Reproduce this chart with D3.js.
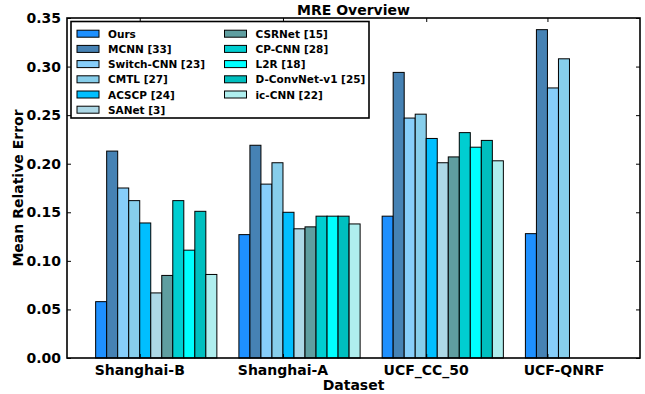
<!DOCTYPE html>
<html>
<head>
<meta charset="utf-8">
<script src="https://cdn.jsdelivr.net/npm/d3@7"></script>
<style>
  body { margin: 0; background: #fff; }
  svg { font-family: "DejaVu Sans", sans-serif; font-weight: bold; }
</style>
</head>
<body>
<div id="chart"></div>
<script>
// data
const datasets = ['Shanghai-B', 'Shanghai-A', 'UCF_CC_50', 'UCF-QNRF'];
const methods  = ['Ours', 'MCNN [33]', 'Switch-CNN [23]', 'CMTL [27]', 'ACSCP [24]', 'SANet [3]',
                  'CSRNet [15]', 'CP-CNN [28]', 'L2R [18]', 'D-ConvNet-v1 [25]', 'ic-CNN [22]'];
const colors   = ['#1E90FF', '#4682B4', '#87CEFA', '#87CEEB', '#00BFFF', '#ADD8E6',
                  '#5F9EA0', '#00CED1', '#00FFFF', '#00BFBF', '#AFEEEE'];
const shanghaiB = [0.058, 0.213, 0.175, 0.162, 0.139, 0.067, 0.085, 0.162, 0.111, 0.151, 0.086];
const shanghaiA = [0.127, 0.219, 0.179, 0.201, 0.150, 0.133, 0.135, 0.146, 0.146, 0.146, 0.138];
const ucfCC50   = [0.146, 0.294, 0.247, 0.251, 0.226, 0.201, 0.207, 0.232, 0.217, 0.224, 0.203];
const ucfQNRF   = [0.128, 0.338, 0.278, 0.308];
const values    = [shanghaiB, shanghaiA, ucfCC50, ucfQNRF];
const yTicks    = [0, 0.05, 0.10, 0.15, 0.20, 0.25, 0.30, 0.35];
const tickSlot  = [4, 4, 4, 2];     // tick mark position, in bar widths from group start
const labelSlot = [4, 4, 4, 3.5];   // label centre, in bar widths from group start

const W = 645, H = 394;
const margin = {left: 67, right: 5, top: 18, bottom: 36};
const barW = 1 / 13;

const svg = d3.select('#chart').append('svg')
  .attr('width', W).attr('height', H);

const x = d3.scaleLinear().domain([-0.2, 3.8]).range([margin.left, W - margin.right]);
const y = d3.scaleLinear().domain([0, 0.35]).range([H - margin.bottom, margin.top]);

// bars
values.forEach((vals, i) => {
  svg.append('g').selectAll('rect')
    .data(vals)
    .join('rect')
    .attr('x', (d, j) => x(i + j * barW))
    .attr('width', x(barW) - x(0))
    .attr('y', d => y(d))
    .attr('height', d => y(0) - y(d))
    .attr('fill', (d, j) => colors[j])
    .attr('stroke', '#000')
    .attr('stroke-width', 1);
});

// axes, ticks pointing inward on all four sides
const xTickVals = datasets.map((d, i) => i + tickSlot[i] * barW);
const tl = 4;
const frame = svg.append('g');
const yLeft = d3.axisLeft(y).tickValues(yTicks).tickFormat(d3.format('.2f')).tickSizeInner(-tl).tickSizeOuter(0).tickPadding(6);
const yRight = d3.axisRight(y).tickValues(yTicks).tickFormat('').tickSizeInner(-tl).tickSizeOuter(0);
const xBottom = d3.axisBottom(x).tickValues(xTickVals).tickFormat('').tickSizeInner(-tl).tickSizeOuter(0);
const xTop = d3.axisTop(x).tickValues(xTickVals).tickFormat('').tickSizeInner(-tl).tickSizeOuter(0);

frame.append('g').attr('transform', `translate(${margin.left},0)`).call(yLeft);
frame.append('g').attr('transform', `translate(${W - margin.right},0)`).call(yRight);
frame.append('g').attr('transform', `translate(0,${y(0)})`).call(xBottom);
frame.append('g').attr('transform', `translate(0,${margin.top})`).call(xTop);
frame.selectAll('.domain').remove();
frame.selectAll('.tick line').attr('stroke', '#000').attr('stroke-width', 1);
frame.selectAll('.tick text').attr('font-size', 14).attr('font-weight', 'bold')
  .attr('font-family', '"DejaVu Sans", sans-serif').attr('fill', '#000');

svg.append('rect')
  .attr('x', margin.left).attr('y', margin.top)
  .attr('width', W - margin.right - margin.left)
  .attr('height', y(0) - margin.top)
  .attr('fill', 'none').attr('stroke', '#000').attr('stroke-width', 1.6);

// dataset labels
svg.append('g').selectAll('text')
  .data(datasets)
  .join('text')
  .attr('x', (d, i) => x(i + labelSlot[i] * barW))
  .attr('y', y(0) + 17)
  .attr('text-anchor', 'middle')
  .attr('font-size', 14)
  .text(d => d);

// titles
svg.append('text')
  .attr('x', (margin.left + W - margin.right) / 2).attr('y', 15)
  .attr('text-anchor', 'middle').attr('font-size', 14)
  .text('MRE Overview');
svg.append('text')
  .attr('x', (margin.left + W - margin.right) / 2).attr('y', 390)
  .attr('text-anchor', 'middle').attr('font-size', 14)
  .text('Dataset');
svg.append('text')
  .attr('transform', `translate(23,${(margin.top + y(0)) / 2}) rotate(-90)`)
  .attr('text-anchor', 'middle').attr('font-size', 14)
  .text('Mean Relative Error');

// legend
const legend = svg.append('g');
legend.append('rect')
  .attr('x', 71).attr('y', 21.5).attr('width', 298).attr('height', 96.5)
  .attr('fill', '#fff').attr('stroke', '#000').attr('stroke-width', 1.6);

const rowH = 15.2;
const items = legend.selectAll('g')
  .data(methods)
  .join('g')
  .attr('transform', (d, j) => {
    const col = j < 6 ? 0 : 1;
    const row = j < 6 ? j : j - 6;
    return `translate(${col ? 224.5 : 77},${33.7 + row * rowH})`;
  });
items.append('rect')
  .attr('x', 0).attr('y', -3.5).attr('width', 22).attr('height', 7)
  .attr('fill', (d, j) => colors[j]).attr('stroke', '#000').attr('stroke-width', 1);
items.append('text')
  .attr('x', 31).attr('y', 4)
  .attr('font-size', 10.5)
  .text(d => d);
</script>
</body>
</html>
